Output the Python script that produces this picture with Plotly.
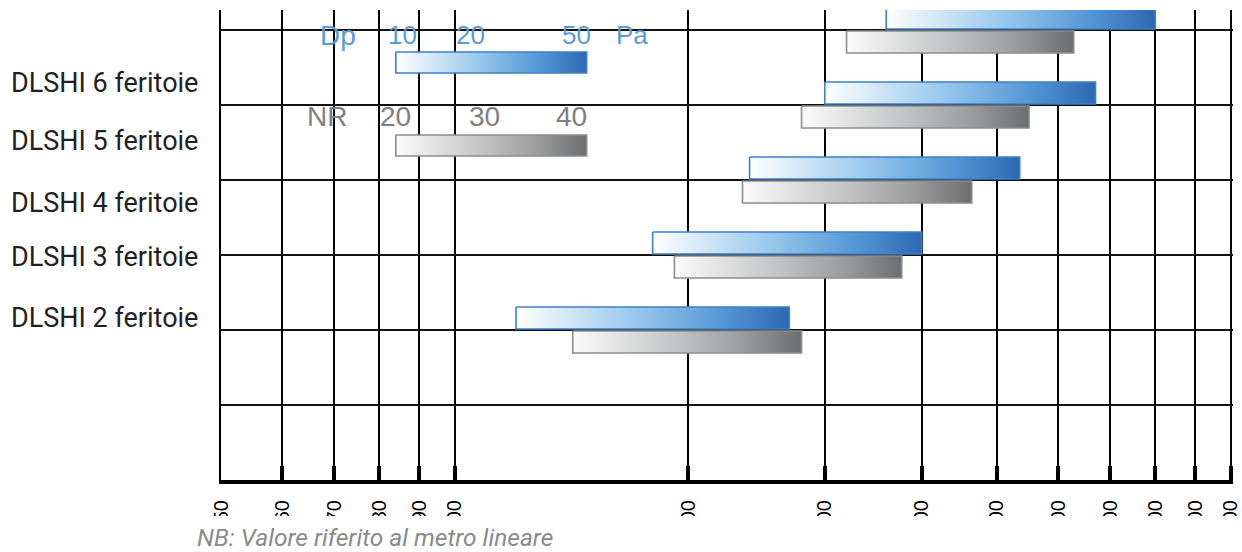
import math
import plotly.graph_objects as go

# ---------------- data ----------------
categories = ["DLSHI 6 feritoie", "DLSHI 5 feritoie", "DLSHI 4 feritoie",
              "DLSHI 3 feritoie", "DLSHI 2 feritoie"]
dp_min = [360, 300, 240, 180, 120]   # Dp 10 -> 50 Pa (blue)
dp_max = [800, 670, 535, 400, 270]
nr_min = [320, 280, 235, 192, 142]   # NR 20 -> 40 (gray)
nr_max = [628, 550, 464, 377, 280]
legend_range = [84, 148]
legend_dp_labels = ["Dp", "10", "20", "50", "Pa"]
legend_nr_labels = ["NR", "20", "30", "40"]
x_ticks = [50, 60, 70, 80, 90, 100, 200, 300, 400, 500, 600, 700, 800, 900, 1000]
x_ticktext = [str(v) for v in x_ticks]
note = "NB: Valore riferito al metro lineare"

# ---------------- layout geometry (pixels) ----------------
W, H = 1242, 552
L, R, T, B = 221, 1233, 10, 480
GRID0, ROW = 30, 75
X_LO = math.log10(50)
X_HI = 3.0 + 2.5 / 777.0


def py2y(py):          # pixel -> y data units (rows)
    return (py - GRID0) / ROW


def px2paper(px):
    return (px - L) / (R - L)


def py2paper(py):
    return (B - py) / (B - T)


BLUE_SCALE = [[0, "#ffffff"], [0.45, "#95c6ec"], [0.75, "#5598d6"], [1, "#2c68b2"]]
GRAY_SCALE = [[0, "#fbfbfb"], [0.45, "#c3c4c5"], [0.75, "#9a9c9e"], [1, "#6b6e70"]]
BLUE_LINE = "#3d80c9"
GRAY_LINE = "#8d8d8d"

fig = go.Figure()


def add_bar(x0, x1, y0, y1, scale, lc):
    fig.add_trace(go.Scatter(
        x=[x0, x1, x1, x0, x0], y=[y0, y0, y1, y1, y0],
        mode="lines", fill="toself",
        fillgradient=dict(type="horizontal", colorscale=scale),
        line=dict(color=lc, width=1.6),
        hoverinfo="skip", showlegend=False))


for i in range(len(categories)):
    add_bar(dp_min[i], dp_max[i], i - 23 / ROW, i - 1 / ROW, BLUE_SCALE, BLUE_LINE)
    add_bar(nr_min[i], nr_max[i], i + 1 / ROW, i + 23 / ROW, GRAY_SCALE, GRAY_LINE)

# legend bars
add_bar(legend_range[0], legend_range[1], py2y(52), py2y(73), BLUE_SCALE, BLUE_LINE)
add_bar(legend_range[0], legend_range[1], py2y(135), py2y(156), GRAY_SCALE, GRAY_LINE)

shapes = [
    # white boxes behind the legend text rows (above grid, below bars)
    dict(type="rect", xref="paper", yref="paper", layer="between",
         x0=px2paper(316), x1=px2paper(654), y0=py2paper(51), y1=py2paper(14),
         fillcolor="white", line=dict(width=0)),
    dict(type="rect", xref="paper", yref="paper", layer="between",
         x0=px2paper(301), x1=px2paper(592), y0=py2paper(132), y1=py2paper(97),
         fillcolor="white", line=dict(width=0)),
    # clip the rotated tick labels
    dict(type="rect", xref="paper", yref="paper", layer="above",
         x0=-0.3, x1=1.05, y0=py2paper(570), y1=py2paper(516),
         fillcolor="white", line=dict(width=0)),
]

annotations = []
label_py = [82.5, 140, 202, 256, 317]
for name, py in zip(categories, label_py):
    annotations.append(dict(text=name, xref="paper", yref="paper",
                            x=px2paper(9), y=py2paper(py + 1), xanchor="left", yanchor="middle",
                            showarrow=False, font=dict(family="Roboto", size=27, color="#231f20")))

dp_px = [338, 402, 470, 576, 632]
for t, px in zip(legend_dp_labels, dp_px):
    annotations.append(dict(text=t, xref="paper", yref="paper",
                            x=px2paper(px), y=py2paper(35), xanchor="center", yanchor="middle",
                            showarrow=False,
                            font=dict(family="Liberation Sans", size=28 if t == "Dp" else 26, color="#5b9bd5")))
nr_px = [327, 395, 484, 571]
for t, px in zip(legend_nr_labels, nr_px):
    annotations.append(dict(text=t, xref="paper", yref="paper",
                            x=px2paper(px), y=py2paper(116), xanchor="center", yanchor="middle",
                            showarrow=False,
                            font=dict(family="Liberation Sans", size=28, color="#808080")))

annotations.append(dict(text=note, xref="paper", yref="paper",
                        x=px2paper(195), y=py2paper(537), xanchor="left", yanchor="middle",
                        showarrow=False,
                        font=dict(family="Roboto", size=24.5, color="#8a8a8a", style="italic")))

fig.update_layout(
    width=W, height=H, autosize=False,
    margin=dict(l=L, r=W - R, t=T, b=H - B, pad=0, autoexpand=False),
    paper_bgcolor="white", plot_bgcolor="white",
    shapes=shapes, annotations=annotations,
    xaxis=dict(type="log", range=[X_LO, X_HI], automargin=False,
               tickvals=x_ticks, ticktext=x_ticktext, tickangle=-90,
               tickfont=dict(family="Liberation Sans", size=20, color="black"),
               ticks="inside", ticklen=14, tickwidth=4, tickcolor="black",
               ticklabelstandoff=8,
               showgrid=True, gridcolor="black", gridwidth=2,
               showline=True, linecolor="black", linewidth=4,
               zeroline=False, fixedrange=True),
    yaxis=dict(range=[py2y(B), py2y(T)], tickmode="linear", tick0=0, dtick=1,
               automargin=False,
               showticklabels=False, ticks="",
               showgrid=True, gridcolor="#111111", gridwidth=2,
               showline=True, linecolor="black", linewidth=2,
               zeroline=False, fixedrange=True),
)

fig.write_html("out.html",
               config={"displayModeBar": False, "responsive": False},
               post_script="document.body.style.margin='0px';document.body.style.overflow='hidden';")
